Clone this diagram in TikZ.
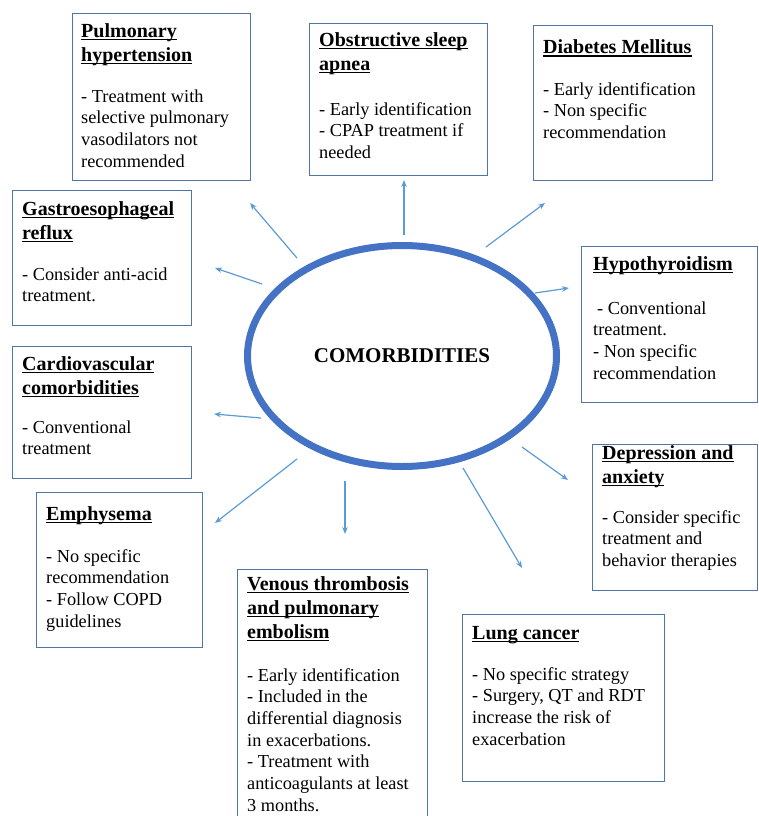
\documentclass[tikz,border=0pt]{standalone}
\usepackage{fontspec}
\setmainfont{Liberation Serif}
\usetikzlibrary{arrows.meta,shapes.geometric}
\definecolor{boxc}{RGB}{80,118,165}
\definecolor{arrc}{RGB}{91,155,213}
\definecolor{ellc}{RGB}{68,114,196}
\newcommand\hul[1]{\setbox0\hbox{#1}\rlap{\rule[-2.6pt]{\wd0}{1.1pt}}\box0}
\begin{document}
\begin{tikzpicture}[x=1pt,y=-1pt,
  box/.style={draw=boxc, line width=1.3pt, anchor=north west, inner sep=0pt},
  hd/.style={anchor=base west, inner sep=0pt, align=left, font=\fontsize{20}{23.7}\selectfont\bfseries},
  bd/.style={anchor=base west, inner sep=0pt, align=left, font=\fontsize{18.3}{21.7}\selectfont},
  arr/.style={draw=arrc, line width=1.2pt, -{Stealth[length=7pt,width=5.5pt]}}]
\useasboundingbox (0,0) rectangle (758,816);
\clip (0,0) rectangle (758,816);
% boxes
\node[box, minimum width=178pt, minimum height=167pt] (b1) at (72,13) {};
\node[box, minimum width=178pt, minimum height=152pt] (b2) at (309,23) {};
\node[box, minimum width=179pt, minimum height=155pt] (b3) at (533,25) {};
\node[box, minimum width=179pt, minimum height=135pt] (b4) at (12,190) {};
\node[box, minimum width=176pt, minimum height=156pt] (b5) at (581,246) {};
\node[box, minimum width=179pt, minimum height=132pt] (b6) at (12,346) {};
\node[box, minimum width=165pt, minimum height=146pt] (b7) at (592,444) {};
\node[box, minimum width=166pt, minimum height=155pt] (b8) at (36,492) {};
\node[box, minimum width=190pt, minimum height=261pt] (b9) at (237,569) {};
\node[box, minimum width=202pt, minimum height=167pt] (b10) at (462,614) {};
% texts (anchored at the baseline of their last line)
\node[hd] (h1) at (81,61.5) {\hul{Pulmonary}\\\hul{hypertension}};
\node[bd] (t1) at (81,167.1) {- Treatment with\\selective pulmonary\\vasodilators not\\recommended};
\node[hd] (h2) at (319,70.5) {\hul{Obstructive sleep}\\\hul{apnea}};
\node[bd] (t2) at (319,158.4) {- Early identification\\- CPAP treatment if\\needed};
\node[hd] (h3) at (543,54) {\hul{Diabetes Mellitus}};
\node[bd] (t3) at (543,138.4) {- Early identification\\- Non specific\\recommendation};
\node[hd] (h4) at (22,239) {\hul{Gastroesophageal}\\\hul{reflux}};
\node[bd] (t4) at (22,301.7) {- Consider anti-acid\\treatment.};
\node[hd] (h5) at (593,270) {\hul{Hypothyroidism}};
\node[bd] (t5) at (593,379.1) {\hspace{4pt}- Conventional\\treatment.\\- Non specific\\recommendation};
\node[hd] (h6) at (22,394) {\hul{Cardiovascular}\\\hul{comorbidities}};
\node[bd] (t6) at (22,454.7) {- Conventional\\treatment};
\node[hd] (h7) at (602,483) {\hul{Depression and}\\\hul{anxiety}};
\node[bd] (t7) at (602,566.4) {- Consider specific\\treatment and\\behavior therapies};
\node[hd] (h8) at (46,520) {\hul{Emphysema}};
\node[bd] (t8) at (46,627.1) {- No specific\\recommendation\\- Follow COPD\\guidelines};
\node[hd] (h9) at (247,638) {\hul{Venous thrombosis}\\\hul{and pulmonary}\\\hul{embolism}};
\node[bd] (t9) at (247,811.2) {- Early identification\\- Included in the\\differential diagnosis\\in exacerbations.\\- Treatment with\\anticoagulants at least\\3 months.};
\node[hd] (h10) at (472,639) {\hul{Lung cancer}};
\node[bd] (t10) at (472,745.1) {- No specific strategy\\- Surgery, QT and RDT\\increase the risk of\\exacerbation};
% centre
\node[ellipse, draw=ellc, line width=7pt, inner sep=0pt, minimum width=309pt, minimum height=221pt,
  font=\fontsize{21}{24}\selectfont\bfseries] (c) at (402,356) {COMORBIDITIES};
% arrows
\coordinate (s1) at (297,258); \coordinate (e1) at (250,203);
\coordinate (s2) at (404,235); \coordinate (e2) at (404,180);
\coordinate (s3) at (486,247); \coordinate (e3) at (545,203);
\coordinate (s4) at (262,284); \coordinate (e4) at (215,268);
\coordinate (s5) at (535,293); \coordinate (e5) at (569,288);
\coordinate (s6) at (261,418); \coordinate (e6) at (214,414);
\coordinate (s7) at (522,447); \coordinate (e7) at (568,480);
\coordinate (s8) at (463,468); \coordinate (e8) at (522,568);
\coordinate (s9) at (297,459); \coordinate (e9) at (215,523);
\coordinate (s10) at (345,481); \coordinate (e10) at (345,534);
\foreach \i in {1,...,10} \draw[arr] (s\i) -- (e\i);
\end{tikzpicture}
\end{document}
